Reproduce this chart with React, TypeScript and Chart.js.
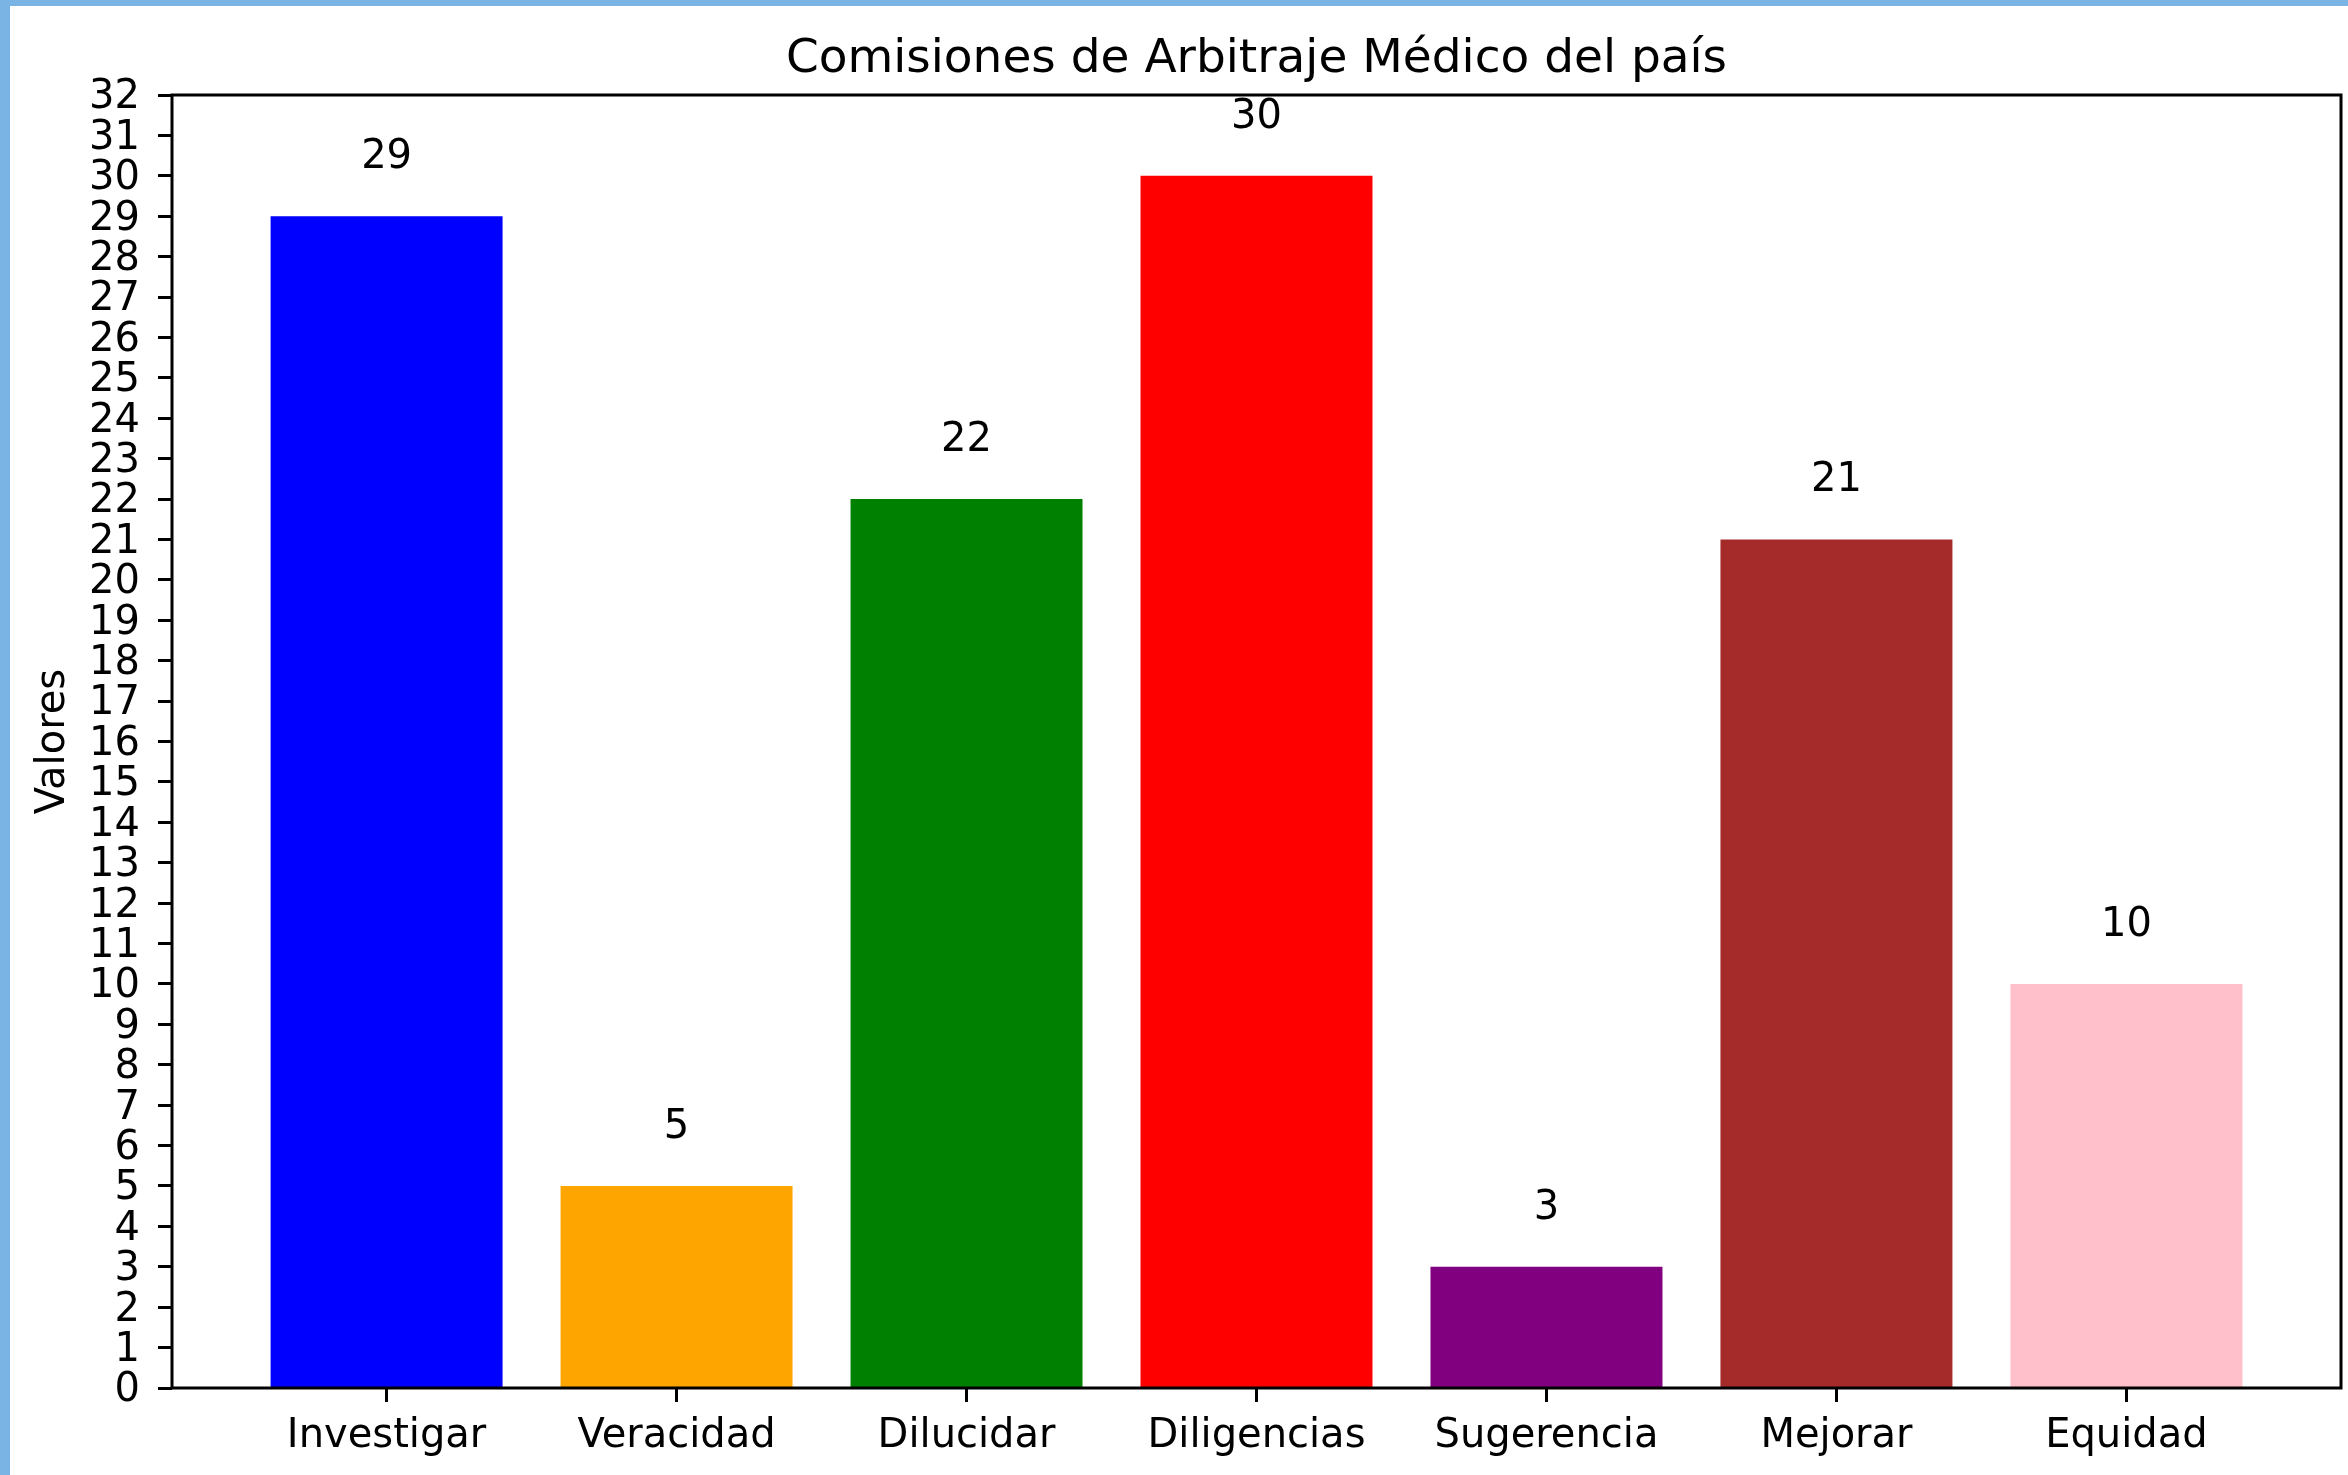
import React, { useEffect, useRef } from "react";
import { Chart, registerables } from "chart.js";

Chart.register(...registerables);

const categories = ["Investigar", "Veracidad", "Dilucidar", "Diligencias", "Sugerencia", "Mejorar", "Equidad"];
const values = [29, 5, 22, 30, 3, 21, 10];
const barColors = ["#0000FF", "#FFA500", "#008000", "#FF0000", "#800080", "#A52A2A", "#FFC0CB"];
const yMin = 0;
const yMax = 32;
const yStep = 1;
const chartTitle = "Comisiones de Arbitraje Médico del país";
const yTitle = "Valores";

const FONT = "'DejaVu Sans', sans-serif";

export default function App() {
  const ref = useRef<HTMLCanvasElement>(null);

  useEffect(() => {
    document.body.style.margin = "0";
    const canvas = ref.current!;

    const valueLabels = {
      id: "valueLabels",
      afterDatasetsDraw(chart: any) {
        const c = chart.ctx;
        const meta = chart.getDatasetMeta(0);
        const yScale = chart.scales.y;
        c.save();
        c.font = `40px ${FONT}`;
        c.fillStyle = "#000";
        c.textAlign = "center";
        c.textBaseline = "bottom";
        values.forEach((v, i) => {
          const el = meta.data[i];
          c.fillText(String(v), el.x, yScale.getPixelForValue(v + 1) + 2);
        });
        c.restore();
      },
    };

    const decorations = {
      id: "decorations",
      afterDraw(chart: any) {
        const { left, top, right, bottom } = chart.chartArea;
        const c = chart.ctx;
        c.save();
        // frame
        c.strokeStyle = "#000";
        c.lineWidth = 3;
        c.strokeRect(left, top, right - left, bottom - top);
        // y tick labels
        const yScale = chart.scales.y;
        c.font = `40px ${FONT}`;
        c.fillStyle = "#000";
        c.textAlign = "right";
        c.textBaseline = "middle";
        yScale.ticks.forEach((t: any) => {
          c.fillText(String(t.value), left - 14 - 18, yScale.getPixelForValue(t.value) + 3);
        });
        // title centred over the plot area
        c.font = `47px ${FONT}`;
        c.textAlign = "center";
        c.textBaseline = "alphabetic";
        c.fillText(chartTitle, (left + right) / 2, 66);
        c.restore();
      },
    };

    const chart = new Chart(canvas, {
      type: "bar",
      data: {
        datasets: [
          {
            data: values.map((v, i) => ({ x: i, y: v })),
            backgroundColor: barColors,
            borderWidth: 0,
            barPercentage: 0.8,
            categoryPercentage: 1,
          },
        ],
      },
      options: {
        responsive: false,
        animation: false,
        layout: { padding: { left: 0, top: 89, right: 7, bottom: 0 } },
        plugins: {
          legend: { display: false },
          tooltip: { enabled: false },
          title: { display: false },
        },
        scales: {
          x: {
            type: "linear",
            offset: false,
            min: -0.74,
            max: categories.length - 1 + 0.74,
            afterBuildTicks: (axis: any) => {
              axis.ticks = categories.map((_, i) => ({ value: i }));
            },
            afterFit: (axis: any) => {
              axis.height = 87;
            },
            ticks: {
              autoSkip: false,
              maxRotation: 0,
              color: "#000",
              font: { family: FONT, size: 40 },
              padding: 11,
              callback: (v: any) => categories[v as number] ?? "",
            },
            grid: {
              display: true,
              offset: false,
              drawOnChartArea: false,
              drawTicks: true,
              tickLength: 14,
              tickColor: "#000",
              tickWidth: 3,
            },
            border: { display: false },
          },
          y: {
            min: yMin,
            max: yMax,
            afterFit: (axis: any) => {
              axis.width = 162;
            },
            ticks: {
              display: false,
              stepSize: yStep,
              autoSkip: false,
            },
            grid: {
              display: true,
              drawOnChartArea: false,
              drawTicks: true,
              tickLength: 14,
              tickColor: "#000",
              tickWidth: 3,
            },
            border: { display: false },
            title: {
              display: true,
              text: yTitle,
              color: "#000",
              font: { family: FONT, size: 40 },
              padding: { top: 20, bottom: 0 },
            },
          },
        },
      },
      plugins: [valueLabels, decorations],
    });

    return () => chart.destroy();
  }, []);

  return (
    <div
      style={{
        width: 2348,
        height: 1475,
        boxSizing: "border-box",
        borderLeft: "10px solid #7AB4E4",
        borderTop: "6px solid #7AB4E4",
        background: "#fff",
        overflow: "hidden",
      }}
    >
      <canvas ref={ref} width={2338} height={1469} style={{ display: "block" }} />
    </div>
  );
}
